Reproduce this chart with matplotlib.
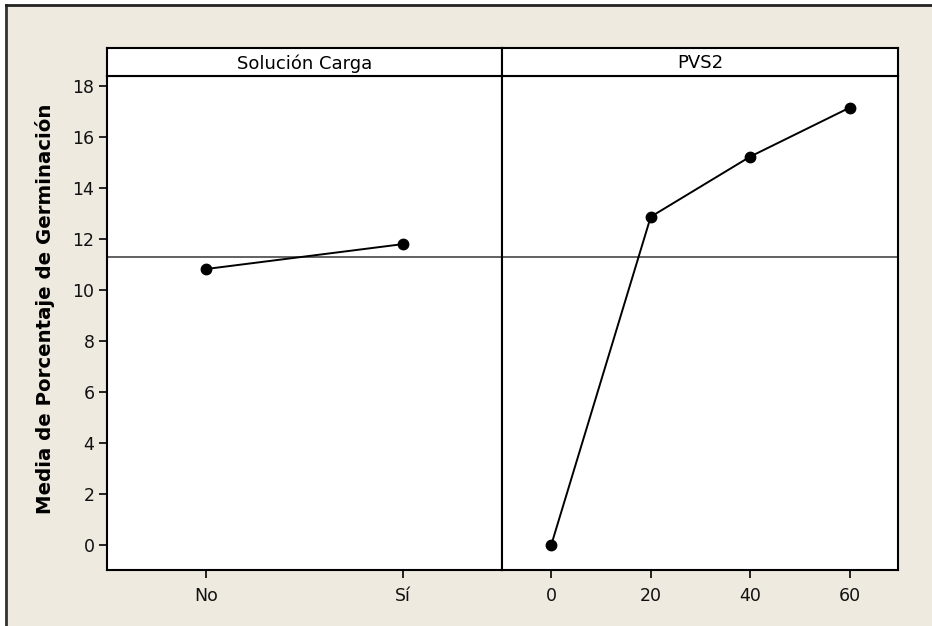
import matplotlib
matplotlib.use("Agg")
import matplotlib.pyplot as plt
from matplotlib.lines import Line2D
from matplotlib.patches import Rectangle

# Data
panel_titles = ["Solución Carga", "PVS2"]
carga_labels = ["No", "Sí"]
carga_means = [10.82, 11.80]
pvs2_levels = [0, 20, 40, 60]
pvs2_means = [0.0, 12.87, 15.23, 17.15]
y_ticks = [0, 2, 4, 6, 8, 10, 12, 14, 16, 18]
ylabel = "Media de Porcentaje de Germinación"

grand_mean = sum(carga_means) / len(carga_means)

W, H = 932, 626
fig = plt.figure(figsize=(W / 100, H / 100), dpi=100)
fig.patch.set_facecolor("white")
bg = "#EEEAE0"
fig.add_artist(Rectangle((5 / W, 0), 1, 1 - 5 / H, transform=fig.transFigure,
                         facecolor=bg, edgecolor="none", zorder=-10))
fig.add_artist(Line2D([5.5 / W, 5.5 / W], [0, 1 - 4.5 / H], transform=fig.transFigure,
                      color="#333333", lw=2))
fig.add_artist(Line2D([5.5 / W, 1], [1 - 4.5 / H, 1 - 4.5 / H], transform=fig.transFigure,
                      color="#222222", lw=2))

def fx(px):
    return px / W

def fy(py):
    return 1 - py / H

left, mid, right = 107, 502, 898
top_strip, top_data, bottom = 48, 76, 570
ylim = (-0.98, 18.39)
font = "DejaVu Sans"
tick_fs = 12.5

ax1 = fig.add_axes([fx(left), fy(bottom), fx(mid - left), fy(top_data) - fy(bottom)])
ax2 = fig.add_axes([fx(mid), fy(bottom), fx(right - mid), fy(top_data) - fy(bottom)])

for ax in (ax1, ax2):
    ax.set_facecolor("white")
    ax.set_ylim(*ylim)
    for s in ax.spines.values():
        s.set_linewidth(1.5)
        s.set_color("black")
    ax.axhline(grand_mean, color="#555555", lw=1.3, zorder=1)
    ax.tick_params(axis="both", direction="out", length=6, width=1.2,
                   labelsize=tick_fs, color="black", labelcolor="#111111")
    ax.tick_params(axis="x", pad=6)
    ax.tick_params(axis="y", pad=3)

xpos = list(range(len(carga_labels)))
ax1.plot(xpos, carga_means, color="black", lw=1.4, marker="o", markersize=7.5, zorder=3)
ax1.set_xlim(-0.5, 1.5)
ax1.set_xticks(xpos)
ax1.set_xticklabels(carga_labels, fontfamily=font)
ax1.set_yticks(y_ticks)
ax1.set_yticklabels([str(t) for t in y_ticks], fontfamily=font)
ax1.set_ylabel(ylabel, fontsize=14.2, fontweight="bold", fontfamily=font)
label_center = ((bottom + top_strip) / 2)
ax1.yaxis.set_label_coords((55 - left) / (mid - left), (bottom - label_center) / (bottom - top_data))

ax2.plot(pvs2_levels, pvs2_means, color="black", lw=1.4, marker="o", markersize=7.5, zorder=3)
ax2.set_xlim(-9.9, 69.7)
ax2.set_xticks(pvs2_levels)
ax2.set_xticklabels([str(v) for v in pvs2_levels], fontfamily=font)
ax2.set_yticks([])

# Strips
for (l, r), title in zip([(left, mid), (mid, right)], panel_titles):
    sax = fig.add_axes([fx(l), fy(top_data), fx(r - l), fy(top_strip) - fy(top_data)])
    sax.set_facecolor("white")
    sax.set_xticks([])
    sax.set_yticks([])
    for s in sax.spines.values():
        s.set_linewidth(1.5)
        s.set_color("black")
    sax.text(0.5, 0.45, title, ha="center", va="center", fontsize=13,
             fontfamily=font, transform=sax.transAxes)

fig.savefig("out.png", dpi=100, facecolor=fig.get_facecolor())
